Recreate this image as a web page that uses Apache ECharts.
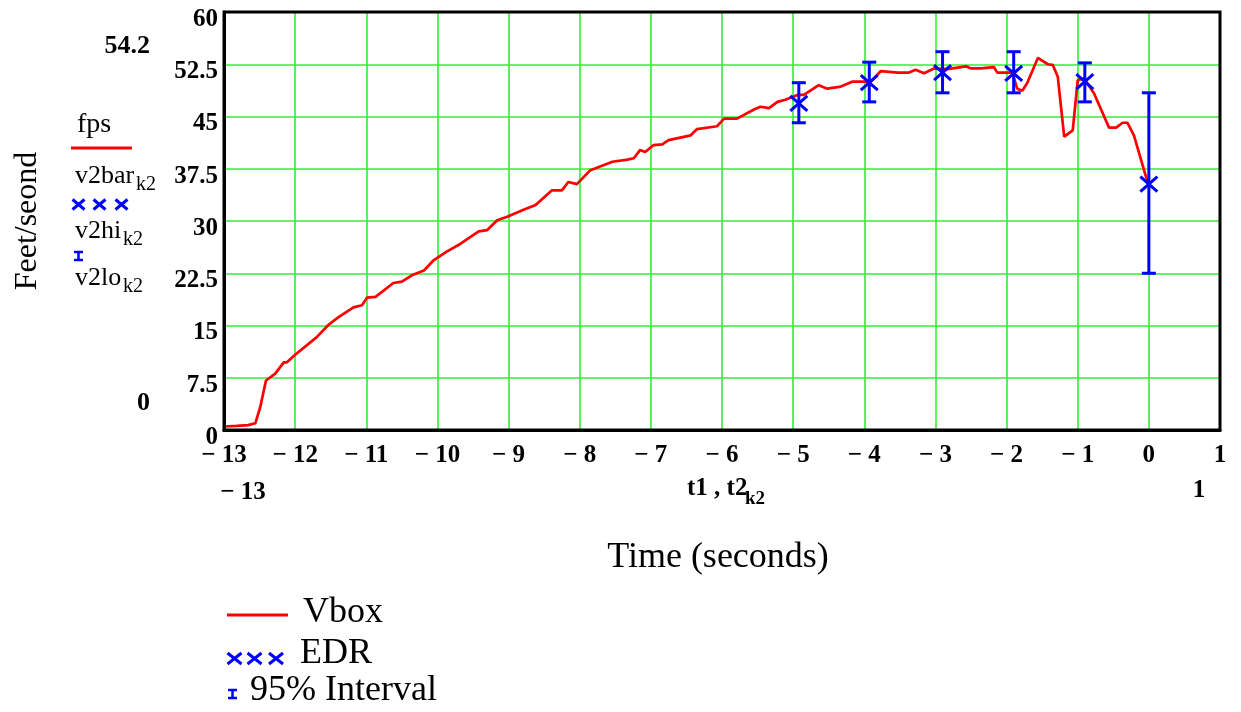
<!DOCTYPE html>
<html>
<head>
<meta charset="utf-8">
<script src="https://cdn.jsdelivr.net/npm/echarts@6/dist/echarts.min.js"></script>
<style>html,body{margin:0;padding:0;background:#fff}#c{width:1241px;height:712px}</style>
</head>
<body>
<div id="c"></div>
<script>
// ---- data ----
const vboxT = [-13.0,-12.82,-12.66,-12.56,-12.49,-12.41,-12.28,-12.16,-12.12,-12.0,-11.70,-11.53,-11.39,-11.18,-11.06,-10.99,-10.87,-10.62,-10.50,-10.36,-10.19,-10.05,-9.87,-9.68,-9.42,-9.30,-9.16,-9.02,-8.79,-8.62,-8.39,-8.25,-8.16,-8.04,-7.85,-7.54,-7.33,-7.24,-7.15,-7.08,-6.96,-6.84,-6.75,-6.44,-6.35,-6.07,-5.97,-5.79,-5.55,-5.46,-5.34,-5.22,-5.11,-4.94,-4.85,-4.64,-4.52,-4.33,-4.17,-4.05,-3.91,-3.77,-3.53,-3.37,-3.28,-3.16,-3.02,-2.83,-2.57,-2.50,-2.36,-2.18,-2.13,-1.92,-1.85,-1.78,-1.71,-1.56,-1.42,-1.35,-1.28,-1.19,-1.07,-1.00,-0.91,-0.77,-0.56,-0.46,-0.37,-0.30,-0.21,-0.01];
const vboxV = [0.5,0.6,0.7,0.96,3.3,7.1,8.1,9.7,9.7,10.8,13.3,15.1,16.2,17.6,17.9,19.0,19.1,21.1,21.3,22.2,22.9,24.4,25.6,26.7,28.5,28.7,30.1,30.6,31.6,32.3,34.4,34.4,35.6,35.3,37.3,38.5,38.8,39.0,40.2,39.9,40.9,41.0,41.6,42.3,43.2,43.6,44.7,44.7,46.0,46.4,46.2,47.1,47.4,48.1,48.1,49.5,49.0,49.3,50.0,50.0,50.0,51.5,51.3,51.3,51.7,51.2,51.9,51.8,52.2,51.9,51.9,52.1,51.3,51.3,49.0,48.7,49.8,53.4,52.5,52.4,50.7,42.1,43.0,50.2,50.5,48.3,43.4,43.4,44.1,44.1,42.3,35.3];
const edrT  = [-4.92,-3.93,-2.90,-1.90,-0.90,0.0];
const edrV  = [46.9,49.85,51.3,51.2,50.0,35.3];
const edrHi = [49.85,52.8,54.3,54.3,52.7,48.4];
const edrLo = [44.1,47.1,48.4,48.4,47.1,22.5];
const yTicks = [0,7.5,15,22.5,30,37.5,45,52.5,60];
const xMin = -13, xMax = 1;

const SERIF = '"Liberation Serif","Times New Roman",serif';
const BLUE = '#0000ff', RED = '#ff0000', GREEN = '#33ee33';

const chart = echarts.init(document.getElementById('c'));

function txt(text, x, y, size, opts) {
  opts = opts || {};
  return {
    type: 'text', x: x, y: y, rotation: opts.rotation || 0, silent: true,
    style: {
      text: text, fill: '#000',
      font: (opts.bold ? 'bold ' : '') + size + 'px ' + SERIF,
      align: opts.align || 'left', verticalAlign: 'middle'
    }
  };
}
function xmark(cx, cy, w, h, lw) {
  return {type: 'group', silent: true, children: [
    {type: 'line', shape: {x1: cx - w/2, y1: cy - h/2, x2: cx + w/2, y2: cy + h/2}, style: {stroke: BLUE, lineWidth: lw}},
    {type: 'line', shape: {x1: cx + w/2, y1: cy - h/2, x2: cx - w/2, y2: cy + h/2}, style: {stroke: BLUE, lineWidth: lw}}
  ]};
}
function ibar(x1, x2, y1, y2) {
  const cx = (x1 + x2) / 2;
  return {type: 'group', silent: true, children: [
    {type: 'line', shape: {x1: x1, y1: y1, x2: x2, y2: y1}, style: {stroke: BLUE, lineWidth: 2.5}},
    {type: 'line', shape: {x1: x1, y1: y2, x2: x2, y2: y2}, style: {stroke: BLUE, lineWidth: 2.5}},
    {type: 'line', shape: {x1: cx, y1: y1, x2: cx, y2: y2}, style: {stroke: BLUE, lineWidth: 2.5}}
  ]};
}

const graphics = [
  txt('54.2', 150, 46, 26, {bold: true, align: 'right'}),
  txt('0', 150, 403, 26, {bold: true, align: 'right'}),
  txt('Feet/seond', 28, 221, 32, {align: 'center', rotation: Math.PI / 2}),
  txt('fps', 77, 125, 28),
  {type: 'line', silent: true, shape: {x1: 71, y1: 148, x2: 132, y2: 148}, style: {stroke: RED, lineWidth: 3}},
  txt('v2bar', 75, 176, 26),
  txt('k2', 136, 185, 20),
  xmark(78.5, 204.5, 12, 10, 3), xmark(99.5, 204.5, 12, 10, 3), xmark(121.5, 204.5, 12, 10, 3),
  txt('v2hi', 75, 231, 26),
  txt('k2', 123, 240, 20),
  ibar(74, 83, 252, 260),
  txt('v2lo', 75, 278, 26),
  txt('k2', 123, 287, 20),
  txt('\u2212 13', 243, 493, 25, {bold: true, align: 'center'}),
  txt('t1 , t2', 687, 489, 25, {bold: true}),
  txt('k2', 745, 499, 19, {bold: true}),
  txt('1', 1199, 491, 25, {bold: true, align: 'center'}),
  txt('Time (seconds)', 718, 558, 36, {align: 'center'}),
  {type: 'line', silent: true, shape: {x1: 227, y1: 615, x2: 288, y2: 615}, style: {stroke: RED, lineWidth: 3}},
  txt('Vbox', 303, 613, 36),
  xmark(234.5, 658.5, 14, 11, 3), xmark(254.5, 658.5, 14, 11, 3), xmark(276, 658.5, 14, 11, 3),
  txt('EDR', 300, 654, 36),
  ibar(228, 237, 690, 698),
  txt('95% Interval', 250, 691, 36)
];

chart.setOption({
  animation: false,
  backgroundColor: '#fff',
  grid: {left: 224, top: 12, right: 21, bottom: 282, containLabel: false, outerBoundsMode: 'none'},
  xAxis: {
    type: 'value', min: xMin, max: xMax, interval: 1,
    axisLine: {show: true, onZero: false, lineStyle: {color: '#000', width: 3}},
    axisTick: {show: false},
    splitLine: {show: true, lineStyle: {color: GREEN, width: 1.6}},
    axisLabel: {
      margin: 13, color: '#000', fontFamily: SERIF, fontWeight: 'bold', fontSize: 25,
      formatter: v => v < 0 ? '\u2212 ' + Math.abs(v) : String(v)
    }
  },
  yAxis: {
    type: 'value', min: 0, max: 60, interval: 7.5,
    axisLine: {show: true, onZero: false, lineStyle: {color: '#000', width: 3}},
    axisTick: {show: false},
    splitLine: {show: true, lineStyle: {color: GREEN, width: 1.6}},
    axisLabel: {
      margin: 6, color: '#000', fontFamily: SERIF, fontWeight: 'bold', fontSize: 25,
      formatter: v => yTicks.indexOf(v) >= 0 ? '{v|' + v + '}' : '',
      rich: {v: {color: '#000', fontFamily: SERIF, fontWeight: 'bold', fontSize: 25, lineHeight: 25, padding: [15, 0, 0, 0]}}
    }
  },
  graphic: [
    {type: 'rect', silent: true, z: 100, shape: {x: 224, y: 12, width: 996, height: 418},
     style: {fill: 'none', stroke: '#000', lineWidth: 3}}
  ].concat(graphics),
  series: [
    {
      name: 'Vbox', type: 'line', showSymbol: false, z: 3,
      data: vboxT.map((t, i) => [t, vboxV[i]]),
      lineStyle: {color: RED, width: 2.7}
    },
    {
      name: '95% Interval', type: 'custom', z: 4,
      data: edrT.map((t, i) => [t, edrHi[i], edrLo[i]]),
      renderItem: function (params, api) {
        const x = api.value(0);
        const pH = api.coord([x, api.value(1)]);
        const pL = api.coord([x, api.value(2)]);
        const w = 7;
        const st = {stroke: BLUE, lineWidth: 3};
        return {type: 'group', children: [
          {type: 'line', shape: {x1: pH[0], y1: pH[1], x2: pL[0], y2: pL[1]}, style: st},
          {type: 'line', shape: {x1: pH[0] - w, y1: pH[1], x2: pH[0] + w, y2: pH[1]}, style: st},
          {type: 'line', shape: {x1: pL[0] - w, y1: pL[1], x2: pL[0] + w, y2: pL[1]}, style: st}
        ]};
      }
    },
    {
      name: 'EDR', type: 'custom', z: 5,
      data: edrT.map((t, i) => [t, edrV[i]]),
      renderItem: function (params, api) {
        const p = api.coord([api.value(0), api.value(1)]);
        const w = 8.5, h = 7.5;
        const st = {stroke: BLUE, lineWidth: 3};
        return {type: 'group', children: [
          {type: 'line', shape: {x1: p[0] - w, y1: p[1] - h, x2: p[0] + w, y2: p[1] + h}, style: st},
          {type: 'line', shape: {x1: p[0] + w, y1: p[1] - h, x2: p[0] - w, y2: p[1] + h}, style: st}
        ]};
      }
    }
  ]
});
</script>
</body>
</html>
